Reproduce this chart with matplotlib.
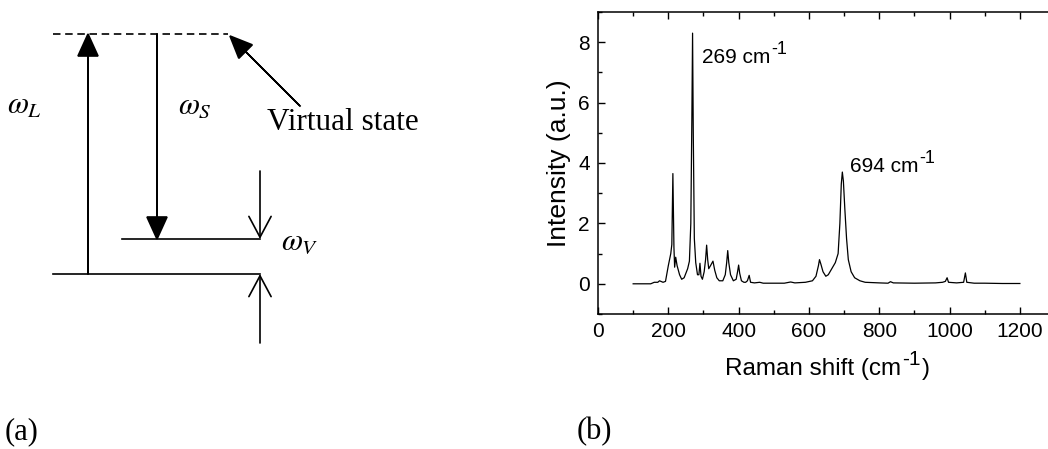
import numpy as np
import matplotlib

matplotlib.use('Agg')
import matplotlib.pyplot as plt
from matplotlib.ticker import MultipleLocator

plt.rcParams['font.family'] = ['Liberation Sans', 'DejaVu Sans']

# Raman spectrum
raman_shift = [100, 150, 160, 170, 175, 185, 192, 200, 207, 210, 213, 216, 218,
               221, 225, 232, 238, 245, 255, 260, 264, 267, 269, 271, 274, 278,
               283, 287, 290, 293, 297, 302, 306, 309, 312, 315, 320, 327, 332,
               338, 345, 355, 362, 366, 369, 372, 377, 385, 393, 397, 400, 403,
               408, 415, 420, 425, 430, 434, 445, 460, 470, 500, 530, 548, 560,
               590, 610, 620, 627, 630, 634, 640, 648, 655, 665, 675, 683, 688,
               692, 695, 698, 702, 707, 712, 720, 730, 745, 760, 800, 825, 832,
               840, 900, 960, 980, 988, 993, 997, 1020, 1040, 1045, 1049, 1070,
               1100, 1150, 1200]
intensity = [0.0, 0.0, 0.05, 0.05, 0.1, 0.05, 0.08, 0.6, 1.0, 1.3, 3.65, 1.2, 0.55,
             0.88, 0.6, 0.3, 0.15, 0.2, 0.5, 0.75, 2.0, 5.5, 8.3, 5.0, 1.5, 0.7,
             0.3, 0.3, 0.68, 0.25, 0.15, 0.4, 0.8, 1.28, 0.8, 0.5, 0.6, 0.75, 0.45,
             0.2, 0.1, 0.1, 0.3, 0.7, 1.1, 0.7, 0.3, 0.1, 0.15, 0.4, 0.62, 0.35,
             0.1, 0.05, 0.05, 0.1, 0.28, 0.05, 0.03, 0.05, 0.02, 0.02, 0.02, 0.06, 0.03,
             0.05, 0.1, 0.25, 0.6, 0.8, 0.65, 0.4, 0.25, 0.3, 0.5, 0.7, 1.0, 2.0,
             3.3, 3.7, 3.4, 2.5, 1.5, 0.8, 0.4, 0.2, 0.1, 0.05, 0.03, 0.02, 0.07,
             0.03, 0.02, 0.03, 0.05, 0.08, 0.2, 0.05, 0.03, 0.05, 0.36, 0.05, 0.02,
             0.02, 0.01, 0.01]
peak_labels = ['269 cm', '694 cm']
peak_label_pos = [(295, 7.3), (716, 3.7)]

# energy level diagram (a), in pixel units of the figure
x_left, x_right = 53, 260
y_virtual, y_vib, y_ground = 34, 239, 274
x_laser, x_stokes, x_vib_left = 88, 157, 122

fig = plt.figure(figsize=(10.48, 4.49), dpi=100)

ax0 = fig.add_axes([0, 0, 1, 1])
ax0.set_xlim(0, 1048)
ax0.set_ylim(449, 0)
ax0.axis('off')

lw = 1.2
ax0.plot([x_left, 228], [y_virtual, y_virtual], color='black', lw=lw,
         linestyle=(0, (4.5, 2.8)))
ax0.plot([x_left, x_right], [y_ground, y_ground], color='black', lw=lw)
ax0.plot([x_vib_left, x_right], [y_vib, y_vib], color='black', lw=lw)

# laser (up) and Stokes (down) arrows with filled heads
ax0.arrow(x_laser, y_ground, 0, y_virtual - y_ground, width=0.01, head_width=20,
          head_length=22, length_includes_head=True, color='black', lw=lw)
ax0.arrow(x_stokes, y_virtual, 0, y_vib - y_virtual, width=0.01, head_width=20,
          head_length=22, length_includes_head=True, color='black', lw=lw)
# pointer to the virtual state
ax0.arrow(300, 106, 230 - 300, 36 - 106, width=0.01, head_width=19,
          head_length=22, length_includes_head=True, color='black', lw=lw)

# open arrows marking omega_V
open_style = '->,head_length=1.5,head_width=0.8'
ax0.annotate('', xy=(x_right, y_vib), xytext=(x_right, 171),
             arrowprops=dict(arrowstyle=open_style, color='black', lw=lw,
                             shrinkA=0, shrinkB=0, mutation_scale=10))
ax0.annotate('', xy=(x_right, y_ground), xytext=(x_right, 343),
             arrowprops=dict(arrowstyle=open_style, color='black', lw=lw,
                             shrinkA=0, shrinkB=0, mutation_scale=10))

omega_kw = dict(fontsize=22, ha='left', va='center', math_fontfamily='stix')
ax0.text(7, 106, r'$\omega_L$', **omega_kw)
ax0.text(178, 106, r'$\omega_S$', **omega_kw)
ax0.text(281, 242, r'$\omega_V$', **omega_kw)
ax0.text(267, 122, 'Virtual state', fontsize=22.5, family='Liberation Serif',
         ha='left', va='center')
ax0.text(5, 432, '(a)', fontsize=22, family='Liberation Serif',
         ha='left', va='center')
ax0.text(577, 432, '(b)', fontsize=22, family='Liberation Serif',
         ha='left', va='center')

# Raman spectrum (b)
ax1 = fig.add_axes([598 / 1048, (449 - 314) / 449, 450 / 1048, 302 / 449])
ax1.plot(raman_shift, intensity, color='black', lw=0.9)


def add_sup(base, sup, size):
    # superscript placed at the upper right of a text artist
    return ax1.annotate(sup, xy=(1, 1), xycoords=base, xytext=(1, -1),
                        textcoords='offset points', fontsize=size,
                        ha='left', va='center', annotation_clip=False)


for label, (px, py) in zip(peak_labels, peak_label_pos):
    t = ax1.text(px, py, label, fontsize=15, ha='left', va='baseline')
    add_sup(t, '-1', 13)

ax1.set_xlim(0, 1280)
ax1.set_ylim(-1, 9)
ax1.xaxis.set_major_locator(MultipleLocator(200))
ax1.xaxis.set_minor_locator(MultipleLocator(100))
ax1.yaxis.set_major_locator(MultipleLocator(2))
ax1.yaxis.set_minor_locator(MultipleLocator(1))
ax1.tick_params(which='both', direction='in', top=True, right=False,
                labelsize=15, width=1)
ax1.tick_params(which='major', length=5, pad=6)
ax1.tick_params(which='minor', length=3)
ax1.spines['right'].set_visible(False)
for s in ['left', 'bottom', 'top']:
    ax1.spines[s].set_linewidth(1.1)
ax1.set_ylabel('Intensity (a.u.)', fontsize=19, labelpad=5)

# x label built from pieces so the superscript keeps a large size
xl = fig.text(725 / 1048, 1 - 369 / 449, 'Raman shift (cm', fontsize=17.5,
              ha='left', va='center')
xs = ax1.annotate('-1', xy=(1, 1), xycoords=xl, xytext=(1, -1),
                  textcoords='offset points', fontsize=15, ha='left',
                  va='center', annotation_clip=False)
ax1.annotate(')', xy=(1, 0.5), xycoords=(xs, xl), xytext=(1, 0),
             textcoords='offset points', fontsize=17.5, ha='left',
             va='center', annotation_clip=False)

fig.savefig('out.png', dpi=100)
